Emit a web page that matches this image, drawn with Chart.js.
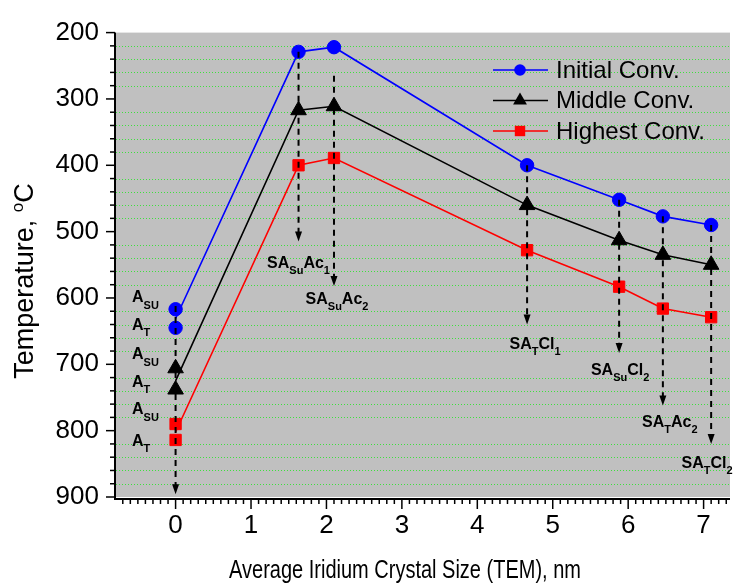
<!DOCTYPE html>
<html>
<head>
<meta charset="utf-8">
<title>Temperature vs Iridium crystal size</title>
<script src="https://cdn.jsdelivr.net/npm/chart.js@4.4.1/dist/chart.umd.min.js"></script>
<style>
  html, body { margin: 0; padding: 0; background: #fff; }
  #wrap { width: 740px; height: 585px; position: relative; }
</style>
</head>
<body>
<div id="wrap"><canvas id="myChart"></canvas></div>
<script>
// crystal size (nm) of each sample, first entry is where the line starts at 0 nm
const sizes = [0, 1.63, 2.10, 4.66, 5.88, 6.46, 7.10];
const initialConv = [631, 229, 222, 400, 452, 477, 490];
const middleConv = [725, 317, 311, 460, 513, 535, 550];
const highestConv = [802, 400, 389, 528, 583, 616, 629];

// the two samples at 0 nm: A_SU then A_T
const zeroSubs = ['SU', 'T'];
const initialZero = [617, 645];
const middleZero = [706, 738];
const highestZero = [790, 814];

const xTicks = [0, 1, 2, 3, 4, 5, 6, 7];
const yTicks = [200, 300, 400, 500, 600, 700, 800, 900];

// dashed arrows pointing down to the sample names
const arrowX = [0, 1.63, 2.10, 4.66, 5.88, 6.46, 7.10];
const arrowFrom = [612, 229, 265, 400, 452, 477, 490];
const arrowTo = [896, 515, 582, 640, 683, 762, 820];
const arrowLabels = [
  null,
  ['SA', 'Su', 'Ac', '1'],
  ['SA', 'Su', 'Ac', '2'],
  ['SA', 'T', 'Cl', '1'],
  ['SA', 'Su', 'Cl', '2'],
  ['SA', 'T', 'Ac', '2'],
  ['SA', 'T', 'Cl', '2']
];
// label placement relative to the arrow tip (px)
const labelDx = [0, 0, 3, 8, 1, 7, -4];
const labelDy = [0, 26, 18, 24, 22, 22, 24];

const FONT = '"Liberation Sans", Arial, sans-serif';

const series = [
  { label: 'Initial Conv.', color: '#0000ff', shape: 'circle', radius: 6.7, values: initialConv, zero: initialZero, zeroDy: [-7, 2] },
  { label: 'Middle Conv.', color: '#000000', shape: 'triangle', radius: 9, values: middleConv, zero: middleZero, zeroDy: [-9, -3] },
  { label: 'Highest Conv.', color: '#ff0000', shape: 'rect', radius: 8, values: highestConv, zero: highestZero, zeroDy: [-10, 6] }
];

let datasets = [];
series.forEach(s => {
  datasets.push({
    label: s.label,
    data: sizes.map((x, i) => ({ x: x, y: s.values[i] })),
    showLine: true,
    borderColor: s.color,
    borderWidth: 1.6,
    pointStyle: s.shape,
    pointRadius: ctx => ctx.dataIndex === 0 ? 0 : s.radius,
    pointHoverRadius: ctx => ctx.dataIndex === 0 ? 0 : s.radius,
    pointBackgroundColor: s.color,
    pointBorderColor: s.color,
    pointBorderWidth: 1
  });
  datasets.push({
    label: s.label + ' 0 nm',
    data: s.zero.map(v => ({ x: 0, y: v })),
    showLine: false,
    pointStyle: s.shape,
    pointRadius: s.radius,
    pointHoverRadius: s.radius,
    pointBackgroundColor: s.color,
    pointBorderColor: s.color,
    pointBorderWidth: 1
  });
});

// text made of alternating normal / subscript parts
function partsWidth(ctx, parts, mainFont, subFont) {
  let w = 0;
  parts.forEach((p, i) => {
    ctx.font = i % 2 === 0 ? mainFont : subFont;
    w += ctx.measureText(p).width;
  });
  return w;
}

function drawParts(ctx, parts, x, y, mainFont, subFont, subDrop) {
  ctx.textAlign = 'left';
  ctx.textBaseline = 'alphabetic';
  parts.forEach((p, i) => {
    ctx.font = i % 2 === 0 ? mainFont : subFont;
    ctx.fillText(p, x, i % 2 === 0 ? y : y + subDrop);
    x += ctx.measureText(p).width;
  });
}

function drawMarker(ctx, shape, x, y, r) {
  ctx.beginPath();
  if (shape === 'circle') {
    ctx.arc(x, y, r, 0, Math.PI * 2);
  } else if (shape === 'triangle') {
    ctx.moveTo(x, y - r);
    ctx.lineTo(x + r * 0.866, y + r / 2);
    ctx.lineTo(x - r * 0.866, y + r / 2);
    ctx.closePath();
  } else {
    ctx.rect(x - r, y - r, r * 2, r * 2);
  }
  ctx.fill();
}

const decorPlugin = {
  id: 'decor',
  beforeDraw(chart) {
    const { ctx, chartArea: a, scales } = chart;
    ctx.save();
    ctx.fillStyle = '#c0c0c0';
    ctx.fillRect(a.left, a.top, a.right - a.left, a.bottom - a.top);
    ctx.strokeStyle = '#3ee03e';
    ctx.lineWidth = 1;
    ctx.setLineDash([1, 2]);
    for (let v = 220; v < 900; v += 20) {
      if (v % 100 === 0) continue;
      const y = Math.round(scales.y.getPixelForValue(v)) + 0.5;
      ctx.beginPath();
      ctx.moveTo(a.left, y);
      ctx.lineTo(a.right, y);
      ctx.stroke();
    }
    ctx.restore();
  },
  afterDraw(chart) {
    const { ctx, chartArea: a, scales } = chart;
    const xs = scales.x, ys = scales.y;
    ctx.save();

    // arrows
    ctx.strokeStyle = '#000';
    ctx.fillStyle = '#000';
    ctx.lineWidth = 2;
    arrowX.forEach((xv, i) => {
      const x = xs.getPixelForValue(xv);
      const y0 = ys.getPixelForValue(arrowFrom[i]);
      const y1 = ys.getPixelForValue(arrowTo[i]);
      ctx.setLineDash([6, 5]);
      ctx.beginPath();
      ctx.moveTo(x, y0);
      ctx.lineTo(x, y1 - 9);
      ctx.stroke();
      ctx.setLineDash([]);
      ctx.beginPath();
      ctx.moveTo(x - 3.5, y1 - 10);
      ctx.lineTo(x + 3.5, y1 - 10);
      ctx.lineTo(x, y1);
      ctx.closePath();
      ctx.fill();
      if (arrowLabels[i]) {
        const mainF = 'bold 16px ' + FONT, subF = 'bold 11px ' + FONT;
        const w = partsWidth(ctx, arrowLabels[i], mainF, subF);
        drawParts(ctx, arrowLabels[i], x + labelDx[i] - w / 2, y1 + labelDy[i], mainF, subF, 6);
      }
    });

    // A_SU / A_T names next to the 0 nm points
    series.forEach(s => {
      s.zero.forEach((v, j) => {
        const y = ys.getPixelForValue(v) + s.zeroDy[j];
        drawParts(ctx, ['A', zeroSubs[j]], 132, y, 'bold 16px ' + FONT, 'bold 11px ' + FONT, 6.5);
      });
    });

    // axes
    ctx.lineWidth = 2;
    ctx.beginPath();
    ctx.moveTo(a.left - 1, a.top);
    ctx.lineTo(a.left - 1, a.bottom + 2);
    ctx.lineTo(a.right, a.bottom + 2);
    ctx.stroke();
    ctx.lineWidth = 1.5;
    for (let v = 200; v <= 900; v += 20) {
      const y = ys.getPixelForValue(v);
      const len = v % 100 === 0 ? 9 : 5;
      ctx.beginPath();
      ctx.moveTo(a.left - 1, y);
      ctx.lineTo(a.left - 1 - len, y);
      ctx.stroke();
    }
    for (let i = -7; i <= 73; i++) {
      const x = xs.getPixelForValue(i / 10);
      const len = i % 10 === 0 ? 10 : 5;
      ctx.beginPath();
      ctx.moveTo(x, a.bottom + 2);
      ctx.lineTo(x, a.bottom + 2 + len);
      ctx.stroke();
    }

    // legend
    series.forEach((s, i) => {
      const y = 70 + i * 30.5;
      ctx.strokeStyle = s.color;
      ctx.fillStyle = s.color;
      ctx.lineWidth = 1.6;
      ctx.beginPath();
      ctx.moveTo(493, y);
      ctx.lineTo(548, y);
      ctx.stroke();
      drawMarker(ctx, s.shape, 520, y, s.shape === 'circle' ? 5.8 : (s.shape === 'triangle' ? 8 : 5.2));
      ctx.fillStyle = '#000';
      ctx.font = '24px ' + FONT;
      ctx.textAlign = 'left';
      ctx.textBaseline = 'middle';
      ctx.fillText(s.label, 556, y + 1);
    });

    // axis titles (x title is a bit taller than wide in the original)
    ctx.fillStyle = '#000';
    ctx.font = '20px ' + FONT;
    ctx.textAlign = 'center';
    ctx.textBaseline = 'alphabetic';
    ctx.save();
    ctx.translate(405, 578);
    ctx.scale(1, 1.28);
    ctx.fillText('Average Iridium Crystal Size (TEM), nm', 0, 0);
    ctx.restore();

    ctx.translate(33, 281);
    ctx.rotate(-Math.PI / 2);
    const yParts = ['Temperature, ', 'o', 'C'];
    const mainF = '27px ' + FONT, supF = '17px ' + FONT;
    const w = partsWidth(ctx, yParts, mainF, supF);
    drawParts(ctx, yParts, -w / 2, 0, mainF, supF, -10);
    ctx.restore();
  }
};

const ctx = document.getElementById('myChart').getContext('2d');
window.myChart = new Chart(ctx, {
  type: 'scatter',
  data: { datasets: datasets },
  plugins: [decorPlugin],
  options: {
    responsive: true,
    maintainAspectRatio: false,
    animation: false,
    layout: { padding: { top: 30, left: 0, right: 0, bottom: 0 } },
    plugins: {
      legend: { display: false },
      tooltip: { enabled: false }
    },
    scales: {
      x: {
        type: 'linear',
        min: -0.79,
        max: 7.35,
        grid: { display: false, drawTicks: false },
        border: { display: false },
        ticks: { color: '#000', font: { family: FONT, size: 26 }, padding: 13 },
        afterBuildTicks: scale => { scale.ticks = xTicks.map(v => ({ value: v })); },
        afterFit: scale => { scale.height = 88; }
      },
      y: {
        type: 'linear',
        reverse: true,
        min: 200,
        max: 900,
        grid: { display: false, drawTicks: false },
        border: { display: false },
        ticks: { color: '#000', font: { family: FONT, size: 26 }, padding: 17 },
        afterBuildTicks: scale => { scale.ticks = yTicks.map(v => ({ value: v })); },
        afterFit: scale => { scale.width = 116; }
      }
    }
  }
});
</script>
</body>
</html>
